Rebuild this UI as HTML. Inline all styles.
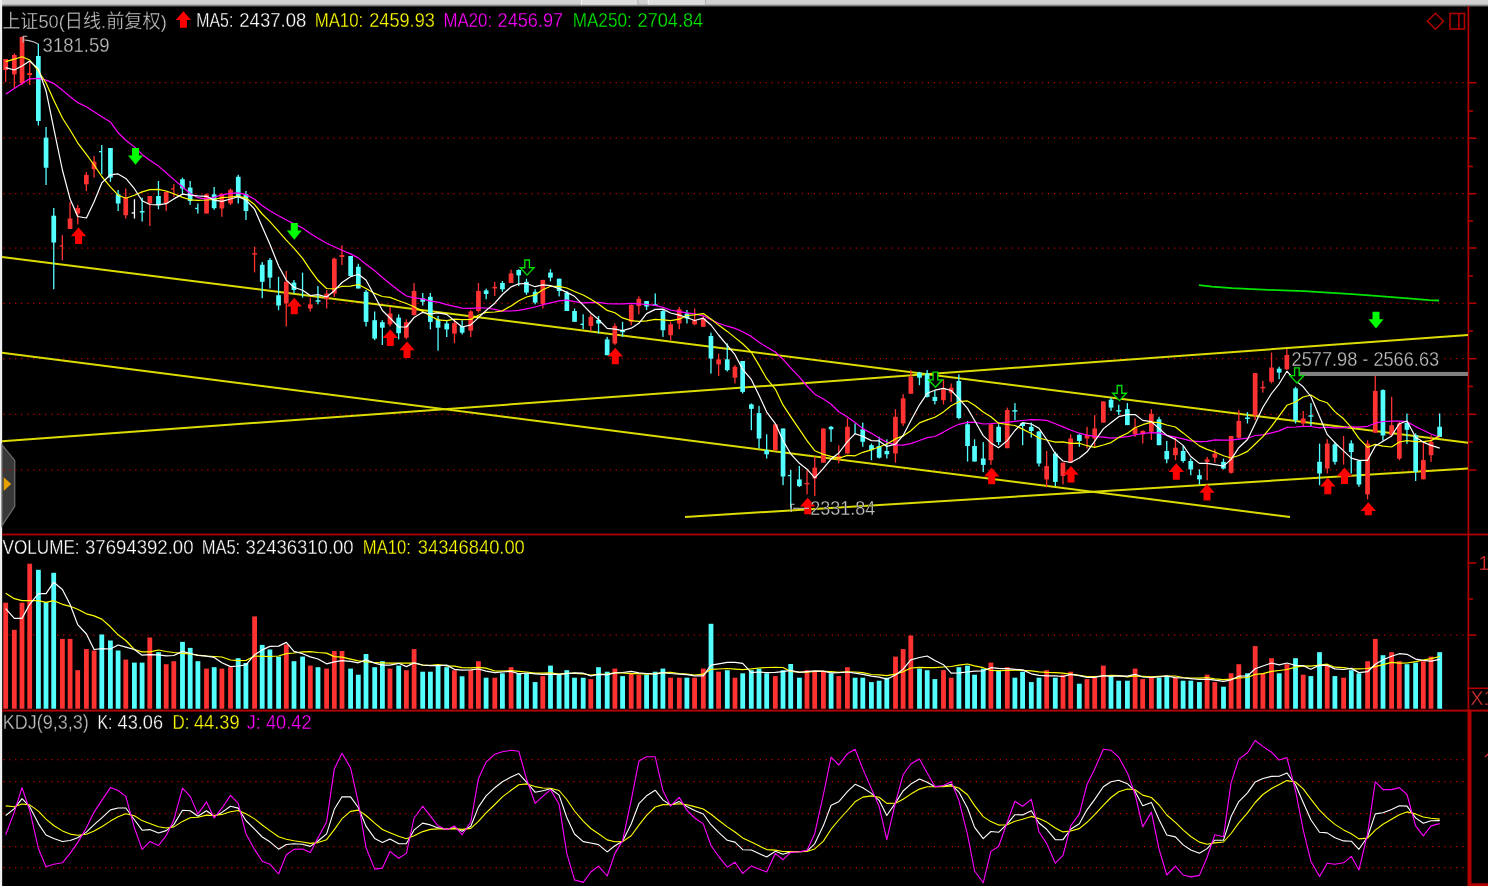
<!DOCTYPE html>
<html lang="zh"><head><meta charset="utf-8"><title>上证50 日线</title>
<style>html,body{margin:0;padding:0;background:#000;overflow:hidden}svg text{white-space:pre}</style></head>
<body>
<svg width="1488" height="886" viewBox="0 0 1488 886" style="display:block" font-family="'Liberation Sans','Noto Sans CJK SC',sans-serif">
<defs><linearGradient id="tg" x1="0" y1="0" x2="0" y2="1"><stop offset="0" stop-color="#d2d2d2"/><stop offset="0.56" stop-color="#d0d0d0"/><stop offset="0.8" stop-color="#707070"/><stop offset="1" stop-color="#000"/></linearGradient></defs>
<rect width="1488" height="886" fill="#000"/>
<rect x="0" y="0" width="1488" height="7.2" fill="url(#tg)"/>
<rect x="581" y="0" width="57" height="4.6" fill="#dedede"/><rect x="581" y="0" width="1" height="4.6" fill="#f4f4f4"/><rect x="637.4" y="0" width="0.9" height="4.6" fill="#a8a8a8"/>
<rect x="647.8" y="0" width="57.8" height="4.6" fill="#dedede"/><rect x="647.8" y="0" width="1" height="4.6" fill="#f4f4f4"/><rect x="705" y="0" width="0.9" height="4.6" fill="#a8a8a8"/>
<rect x="0" y="0" width="2.15" height="886" fill="#efefef"/>
<path d="M2,444.9 L14.7,460.4 V506.4 L2,525.6 Z" fill="#383838" stroke="#6a6a6a" stroke-width="1.3"/>
<path d="M3.7,477.2 V490.9 L11.2,484 Z" fill="#e8a000"/>
<line x1="3.15" y1="82.7" x2="1464" y2="82.7" stroke="#c00000" stroke-width="1.25" stroke-dasharray="1.25 4.754"/>
<line x1="3.15" y1="138.2" x2="1464" y2="138.2" stroke="#c00000" stroke-width="1.25" stroke-dasharray="1.25 4.754"/>
<line x1="3.15" y1="193.7" x2="1464" y2="193.7" stroke="#c00000" stroke-width="1.25" stroke-dasharray="1.25 4.754"/>
<line x1="3.15" y1="248" x2="1464" y2="248" stroke="#c00000" stroke-width="1.25" stroke-dasharray="1.25 4.754"/>
<line x1="3.15" y1="303.3" x2="1464" y2="303.3" stroke="#c00000" stroke-width="1.25" stroke-dasharray="1.25 4.754"/>
<line x1="3.15" y1="358.7" x2="1464" y2="358.7" stroke="#c00000" stroke-width="1.25" stroke-dasharray="1.25 4.754"/>
<line x1="3.15" y1="414.3" x2="1464" y2="414.3" stroke="#c00000" stroke-width="1.25" stroke-dasharray="1.25 4.754"/>
<line x1="3.15" y1="469.9" x2="1464" y2="469.9" stroke="#c00000" stroke-width="1.25" stroke-dasharray="1.25 4.754"/>
<line x1="3.15" y1="635.1" x2="1464" y2="635.1" stroke="#c00000" stroke-width="1.25" stroke-dasharray="1.25 4.754"/>
<line x1="3.15" y1="759.5" x2="1464" y2="759.5" stroke="#c00000" stroke-width="1.25" stroke-dasharray="1.25 4.754"/>
<line x1="3.15" y1="781.7" x2="1464" y2="781.7" stroke="#c00000" stroke-width="1.25" stroke-dasharray="1.25 4.754"/>
<line x1="3.15" y1="813.6" x2="1464" y2="813.6" stroke="#c00000" stroke-width="1.25" stroke-dasharray="1.25 4.754"/>
<line x1="3.15" y1="846.6" x2="1464" y2="846.6" stroke="#c00000" stroke-width="1.25" stroke-dasharray="1.25 4.754"/>
<line x1="3.15" y1="867.7" x2="1464" y2="867.7" stroke="#c00000" stroke-width="1.25" stroke-dasharray="1.25 4.754"/>
<rect x="1467.5" y="6" width="1.8" height="880" fill="#b00000"/>
<rect x="1469" y="81.9" width="7.5" height="1.6" fill="#b00000"/>
<rect x="1469" y="137.4" width="7.5" height="1.6" fill="#b00000"/>
<rect x="1469" y="192.9" width="7.5" height="1.6" fill="#b00000"/>
<rect x="1469" y="247.2" width="7.5" height="1.6" fill="#b00000"/>
<rect x="1469" y="302.5" width="7.5" height="1.6" fill="#b00000"/>
<rect x="1469" y="357.9" width="7.5" height="1.6" fill="#b00000"/>
<rect x="1469" y="413.5" width="7.5" height="1.6" fill="#b00000"/>
<rect x="1469" y="469.1" width="7.5" height="1.6" fill="#b00000"/>
<rect x="1469" y="634.3" width="7.5" height="1.6" fill="#b00000"/>
<rect x="1469" y="110.2" width="4" height="1.6" fill="#b00000"/>
<rect x="1469" y="165.7" width="4" height="1.6" fill="#b00000"/>
<rect x="1469" y="220.2" width="4" height="1.6" fill="#b00000"/>
<rect x="1469" y="275.2" width="4" height="1.6" fill="#b00000"/>
<rect x="1469" y="330.2" width="4" height="1.6" fill="#b00000"/>
<rect x="1469" y="385.7" width="4" height="1.6" fill="#b00000"/>
<rect x="1469" y="441.2" width="4" height="1.6" fill="#b00000"/>
<rect x="1469" y="598.2" width="4" height="1.6" fill="#b00000"/>
<rect x="1469" y="562.2" width="7.5" height="1.6" fill="#b00000"/>
<rect x="2" y="533.6" width="1486" height="1.8" fill="#b00000"/>
<rect x="2" y="709.6" width="1486" height="2" fill="#b00000"/>
<line x1="2" y1="256.9" x2="1468" y2="442.8" stroke="#dcdc00" stroke-width="2"/>
<line x1="2" y1="352.8" x2="1290" y2="517" stroke="#dcdc00" stroke-width="2"/>
<line x1="2" y1="441.2" x2="1468" y2="335" stroke="#dcdc00" stroke-width="2"/>
<line x1="685" y1="517" x2="1468" y2="468.6" stroke="#dcdc00" stroke-width="2"/>
<rect x="1296" y="371.9" width="172" height="4.1" fill="#808080"/>
<rect x="1290.5" y="350" width="150" height="17" fill="#000"/>
<rect x="5" y="59" width="1.3" height="23" fill="#ff3232"/>
<rect x="3.3" y="59" width="4.7" height="11" fill="#ff3232"/>
<rect x="13.7" y="53.4" width="1.3" height="35.1" fill="#ff3232"/>
<rect x="12" y="55" width="4.7" height="19.3" fill="#ff3232"/>
<rect x="21.4" y="36.7" width="1.3" height="48.3" fill="#ff3232"/>
<rect x="19.7" y="37" width="4.7" height="46.4" fill="#ff3232"/>
<rect x="29.1" y="61" width="1.3" height="24" fill="#ff3232"/>
<rect x="27.4" y="73" width="4.7" height="2" fill="#ff3232"/>
<rect x="37.7" y="44" width="1.3" height="81.5" fill="#54ffff"/>
<rect x="36" y="56" width="4.7" height="65" fill="#54ffff"/>
<rect x="45.4" y="127" width="1.3" height="58" fill="#54ffff"/>
<rect x="43.7" y="137.6" width="4.7" height="30.1" fill="#54ffff"/>
<rect x="53.1" y="208" width="1.3" height="81.2" fill="#54ffff"/>
<rect x="51.4" y="215.7" width="4.7" height="26.8" fill="#54ffff"/>
<rect x="61.7" y="235.2" width="1.3" height="25.1" fill="#ff3232"/>
<rect x="59.6" y="245.3" width="2.8" height="1.3" fill="#ff3232"/>
<rect x="69.4" y="201.8" width="1.3" height="27.1" fill="#ff3232"/>
<rect x="67.7" y="218.5" width="4.7" height="10.4" fill="#ff3232"/>
<rect x="77.1" y="205" width="1.3" height="19.4" fill="#ff3232"/>
<rect x="75.4" y="208" width="4.7" height="5.5" fill="#ff3232"/>
<rect x="85.7" y="172" width="1.3" height="19" fill="#ff3232"/>
<rect x="84" y="174.8" width="4.7" height="9.5" fill="#ff3232"/>
<rect x="93.4" y="155.9" width="1.3" height="21.7" fill="#ff3232"/>
<rect x="91.7" y="161.7" width="4.7" height="7.5" fill="#ff3232"/>
<rect x="101.1" y="145" width="1.3" height="29.3" fill="#54ffff"/>
<rect x="99" y="151" width="2.8" height="1.3" fill="#54ffff"/>
<rect x="109.8" y="148" width="1.3" height="33.8" fill="#54ffff"/>
<rect x="108.1" y="148" width="4.7" height="29.6" fill="#54ffff"/>
<rect x="117.5" y="190" width="1.3" height="21" fill="#54ffff"/>
<rect x="115.8" y="194.3" width="4.7" height="9.2" fill="#54ffff"/>
<rect x="125.1" y="188.5" width="1.3" height="30" fill="#ff3232"/>
<rect x="123.4" y="197.6" width="4.7" height="17.6" fill="#ff3232"/>
<rect x="133.8" y="199.3" width="1.3" height="19.2" fill="#ffffff"/>
<rect x="131.6" y="212.3" width="2.8" height="1.3" fill="#ffffff"/>
<rect x="141.5" y="197.6" width="1.3" height="23.9" fill="#54ffff"/>
<rect x="139.8" y="211" width="4.7" height="1.5" fill="#54ffff"/>
<rect x="149.2" y="196" width="1.3" height="30" fill="#ff3232"/>
<rect x="147.5" y="196" width="4.7" height="7.5" fill="#ff3232"/>
<rect x="157.8" y="181" width="1.3" height="28.3" fill="#54ffff"/>
<rect x="156.1" y="196" width="4.7" height="9" fill="#54ffff"/>
<rect x="165.5" y="191.8" width="1.3" height="19.2" fill="#ff3232"/>
<rect x="163.8" y="191.8" width="4.7" height="11.7" fill="#ff3232"/>
<rect x="173.2" y="184.1" width="1.3" height="12.7" fill="#ff3232"/>
<rect x="171" y="188.3" width="2.8" height="1.3" fill="#ff3232"/>
<rect x="181.8" y="177.6" width="1.3" height="16.7" fill="#54ffff"/>
<rect x="180.1" y="179.3" width="4.7" height="9.2" fill="#54ffff"/>
<rect x="189.5" y="181" width="1.3" height="23.8" fill="#54ffff"/>
<rect x="187.8" y="187.6" width="4.7" height="13.4" fill="#54ffff"/>
<rect x="197.2" y="203.5" width="1.3" height="10" fill="#54ffff"/>
<rect x="195.1" y="207.8" width="2.8" height="1.3" fill="#54ffff"/>
<rect x="205.9" y="193.5" width="1.3" height="20" fill="#ff3232"/>
<rect x="204.2" y="194.3" width="4.7" height="19.2" fill="#ff3232"/>
<rect x="213.5" y="187" width="1.3" height="22.8" fill="#54ffff"/>
<rect x="211.8" y="194.3" width="4.7" height="13.9" fill="#54ffff"/>
<rect x="221.2" y="193" width="1.3" height="23.8" fill="#ff3232"/>
<rect x="219.5" y="194.3" width="4.7" height="14.2" fill="#ff3232"/>
<rect x="229.9" y="188.5" width="1.3" height="16.5" fill="#ff3232"/>
<rect x="228.2" y="189.8" width="4.7" height="13.7" fill="#ff3232"/>
<rect x="237.6" y="174.8" width="1.3" height="28.7" fill="#54ffff"/>
<rect x="235.9" y="176.8" width="4.7" height="20" fill="#54ffff"/>
<rect x="245.3" y="191" width="1.3" height="29" fill="#54ffff"/>
<rect x="243.6" y="194.2" width="4.7" height="16.8" fill="#54ffff"/>
<rect x="253.9" y="246.8" width="1.3" height="25.6" fill="#ff3232"/>
<rect x="252.1" y="253.2" width="5" height="1.4" fill="#ff3232"/>
<rect x="261.6" y="262" width="1.3" height="36.2" fill="#54ffff"/>
<rect x="259.9" y="264.8" width="4.7" height="17" fill="#54ffff"/>
<rect x="269.3" y="258" width="1.3" height="30.5" fill="#54ffff"/>
<rect x="267.6" y="260" width="4.7" height="17.6" fill="#54ffff"/>
<rect x="277.9" y="276.8" width="1.3" height="33.4" fill="#54ffff"/>
<rect x="276.2" y="295.2" width="4.7" height="10.3" fill="#54ffff"/>
<rect x="285.6" y="271" width="1.3" height="55.5" fill="#ff3232"/>
<rect x="283.9" y="281.8" width="4.7" height="21.7" fill="#ff3232"/>
<rect x="293.3" y="280" width="1.3" height="13.5" fill="#54ffff"/>
<rect x="291.6" y="282.6" width="4.7" height="7.4" fill="#54ffff"/>
<rect x="301.9" y="272.6" width="1.3" height="25.1" fill="#54ffff"/>
<rect x="309.6" y="297.7" width="1.3" height="13.8" fill="#ff3232"/>
<rect x="307.9" y="304.3" width="4.7" height="4.2" fill="#ff3232"/>
<rect x="317.3" y="286" width="1.3" height="18.3" fill="#54ffff"/>
<rect x="315.5" y="300.3" width="5" height="1.4" fill="#54ffff"/>
<rect x="326" y="290" width="1.3" height="18.5" fill="#ff3232"/>
<rect x="324.3" y="293.5" width="4.7" height="5.8" fill="#ff3232"/>
<rect x="333.7" y="257.6" width="1.3" height="39.2" fill="#ff3232"/>
<rect x="332" y="258.7" width="4.7" height="34.8" fill="#ff3232"/>
<rect x="341.3" y="245.4" width="1.3" height="19.6" fill="#ff3232"/>
<rect x="339.6" y="255" width="4.7" height="2" fill="#ff3232"/>
<rect x="350" y="256" width="1.3" height="20.8" fill="#54ffff"/>
<rect x="348.3" y="256" width="4.7" height="20" fill="#54ffff"/>
<rect x="357.7" y="263.8" width="1.3" height="24.7" fill="#54ffff"/>
<rect x="356" y="266.8" width="4.7" height="21.7" fill="#54ffff"/>
<rect x="365.4" y="290" width="1.3" height="36.5" fill="#54ffff"/>
<rect x="363.7" y="291.8" width="4.7" height="30.1" fill="#54ffff"/>
<rect x="374" y="311.5" width="1.3" height="28.7" fill="#54ffff"/>
<rect x="372.3" y="320.2" width="4.7" height="18.4" fill="#54ffff"/>
<rect x="381.7" y="320.2" width="1.3" height="24.8" fill="#54ffff"/>
<rect x="380" y="322.2" width="4.7" height="5.5" fill="#54ffff"/>
<rect x="389.4" y="306.8" width="1.3" height="19.7" fill="#ff3232"/>
<rect x="387.7" y="313.5" width="4.7" height="10.9" fill="#ff3232"/>
<rect x="398" y="314.4" width="1.3" height="25" fill="#54ffff"/>
<rect x="396.3" y="317.7" width="4.7" height="15.5" fill="#54ffff"/>
<rect x="405.7" y="319.4" width="1.3" height="19.6" fill="#ff3232"/>
<rect x="404" y="322.2" width="4.7" height="15.5" fill="#ff3232"/>
<rect x="413.4" y="283" width="1.3" height="32.2" fill="#ff3232"/>
<rect x="411.7" y="291" width="4.7" height="24.2" fill="#ff3232"/>
<rect x="422.1" y="293" width="1.3" height="12.5" fill="#54ffff"/>
<rect x="420.4" y="298.2" width="4.7" height="3.6" fill="#54ffff"/>
<rect x="429.7" y="293" width="1.3" height="36.4" fill="#54ffff"/>
<rect x="428" y="296.8" width="4.7" height="25.1" fill="#54ffff"/>
<rect x="437.4" y="316" width="1.3" height="34.6" fill="#54ffff"/>
<rect x="435.7" y="319.4" width="4.7" height="8.3" fill="#54ffff"/>
<rect x="446.1" y="321" width="1.3" height="16" fill="#54ffff"/>
<rect x="444.4" y="323.5" width="4.7" height="5.9" fill="#54ffff"/>
<rect x="453.8" y="320.2" width="1.3" height="23" fill="#ff3232"/>
<rect x="452.1" y="323.2" width="4.7" height="10.4" fill="#ff3232"/>
<rect x="461.5" y="320.2" width="1.3" height="14.2" fill="#54ffff"/>
<rect x="459.8" y="326" width="4.7" height="6.7" fill="#54ffff"/>
<rect x="470.1" y="310.2" width="1.3" height="26.8" fill="#ff3232"/>
<rect x="468.4" y="311.5" width="4.7" height="19.1" fill="#ff3232"/>
<rect x="477.8" y="283" width="1.3" height="29.7" fill="#ff3232"/>
<rect x="476.1" y="291" width="4.7" height="20" fill="#ff3232"/>
<rect x="485.5" y="288.6" width="1.3" height="10.7" fill="#54ffff"/>
<rect x="483.8" y="290.4" width="4.7" height="3.6" fill="#54ffff"/>
<rect x="494.1" y="281.8" width="1.3" height="14.2" fill="#ff3232"/>
<rect x="492.4" y="286.8" width="4.7" height="1.6" fill="#ff3232"/>
<rect x="501.8" y="281" width="1.3" height="10.8" fill="#54ffff"/>
<rect x="500.1" y="283" width="4.7" height="6.3" fill="#54ffff"/>
<rect x="510.4" y="269.7" width="1.3" height="13.3" fill="#ff3232"/>
<rect x="508.7" y="273.4" width="4.7" height="9.6" fill="#ff3232"/>
<rect x="518.1" y="269.2" width="1.3" height="16.8" fill="#54ffff"/>
<rect x="516.4" y="270" width="4.7" height="5.4" fill="#54ffff"/>
<rect x="525.8" y="278.7" width="1.3" height="16.1" fill="#54ffff"/>
<rect x="524.1" y="281.8" width="4.7" height="10.8" fill="#54ffff"/>
<rect x="534.5" y="289.3" width="1.3" height="15" fill="#54ffff"/>
<rect x="532.8" y="291.8" width="4.7" height="10.8" fill="#54ffff"/>
<rect x="542.2" y="279.7" width="1.3" height="28.8" fill="#ff3232"/>
<rect x="540.5" y="280" width="4.7" height="24.3" fill="#ff3232"/>
<rect x="549.8" y="269.2" width="1.3" height="12.2" fill="#54ffff"/>
<rect x="548.1" y="272.6" width="4.7" height="5" fill="#54ffff"/>
<rect x="558.5" y="278.7" width="1.3" height="17.7" fill="#54ffff"/>
<rect x="556.8" y="278.7" width="4.7" height="12.3" fill="#54ffff"/>
<rect x="566.2" y="291" width="1.3" height="20" fill="#54ffff"/>
<rect x="564.5" y="292.6" width="4.7" height="18.4" fill="#54ffff"/>
<rect x="573.9" y="308.5" width="1.3" height="13.3" fill="#54ffff"/>
<rect x="572.2" y="311" width="4.7" height="10.8" fill="#54ffff"/>
<rect x="582.5" y="314.3" width="1.3" height="15" fill="#54ffff"/>
<rect x="580.4" y="323.7" width="2.8" height="1.3" fill="#54ffff"/>
<rect x="590.2" y="314.3" width="1.3" height="16.7" fill="#ff3232"/>
<rect x="588.5" y="316.8" width="4.7" height="9.2" fill="#ff3232"/>
<rect x="597.9" y="316" width="1.3" height="17.5" fill="#54ffff"/>
<rect x="596.2" y="320" width="4.7" height="3.5" fill="#54ffff"/>
<rect x="606.5" y="336.9" width="1.3" height="18.3" fill="#54ffff"/>
<rect x="604.8" y="339.4" width="4.7" height="15.8" fill="#54ffff"/>
<rect x="614.2" y="323.5" width="1.3" height="21.4" fill="#ff3232"/>
<rect x="612.5" y="326" width="4.7" height="17.5" fill="#ff3232"/>
<rect x="621.9" y="321.8" width="1.3" height="15.1" fill="#54ffff"/>
<rect x="620.1" y="330.8" width="5" height="1.4" fill="#54ffff"/>
<rect x="630.6" y="304.3" width="1.3" height="20.9" fill="#ff3232"/>
<rect x="628.9" y="305" width="4.7" height="16.8" fill="#ff3232"/>
<rect x="638.2" y="296.4" width="1.3" height="17.9" fill="#ff3232"/>
<rect x="636.5" y="298.8" width="4.7" height="7.2" fill="#ff3232"/>
<rect x="645.9" y="301" width="1.3" height="9" fill="#54ffff"/>
<rect x="644.2" y="301" width="4.7" height="5.5" fill="#54ffff"/>
<rect x="654.6" y="293.4" width="1.3" height="12.6" fill="#54ffff"/>
<rect x="652.7" y="304.3" width="5" height="1.4" fill="#54ffff"/>
<rect x="662.3" y="310" width="1.3" height="26.9" fill="#54ffff"/>
<rect x="660.6" y="311" width="4.7" height="19.2" fill="#54ffff"/>
<rect x="670" y="322.2" width="1.3" height="18" fill="#ff3232"/>
<rect x="668.3" y="324.3" width="4.7" height="10.9" fill="#ff3232"/>
<rect x="678.6" y="306.8" width="1.3" height="22.5" fill="#ff3232"/>
<rect x="676.9" y="309.3" width="4.7" height="14.2" fill="#ff3232"/>
<rect x="686.3" y="310" width="1.3" height="13.5" fill="#54ffff"/>
<rect x="684.6" y="313.5" width="4.7" height="5" fill="#54ffff"/>
<rect x="694" y="308.5" width="1.3" height="16.7" fill="#ff3232"/>
<rect x="692.3" y="320.2" width="4.7" height="4.1" fill="#ff3232"/>
<rect x="702.6" y="316" width="1.3" height="10.8" fill="#ff3232"/>
<rect x="700.9" y="318.5" width="4.7" height="8.3" fill="#ff3232"/>
<rect x="710.3" y="332.7" width="1.3" height="40.9" fill="#54ffff"/>
<rect x="708.6" y="336" width="4.7" height="22.6" fill="#54ffff"/>
<rect x="718" y="353.6" width="1.3" height="22.5" fill="#ff3232"/>
<rect x="716.3" y="359.4" width="4.7" height="5" fill="#ff3232"/>
<rect x="726.6" y="343.4" width="1.3" height="28.1" fill="#54ffff"/>
<rect x="724.9" y="359.3" width="4.7" height="10.8" fill="#54ffff"/>
<rect x="734.3" y="365.1" width="1.3" height="18.4" fill="#ff3232"/>
<rect x="732.6" y="366.8" width="4.7" height="10.9" fill="#ff3232"/>
<rect x="742" y="361" width="1.3" height="32.5" fill="#54ffff"/>
<rect x="740.3" y="361" width="4.7" height="30.9" fill="#54ffff"/>
<rect x="750.7" y="403.5" width="1.3" height="26.7" fill="#54ffff"/>
<rect x="749" y="404.4" width="4.7" height="4.5" fill="#54ffff"/>
<rect x="758.4" y="405.9" width="1.3" height="42.6" fill="#54ffff"/>
<rect x="756.7" y="413.1" width="4.7" height="25.4" fill="#54ffff"/>
<rect x="766" y="434.3" width="1.3" height="24.2" fill="#54ffff"/>
<rect x="764.3" y="450.2" width="4.7" height="4.1" fill="#54ffff"/>
<rect x="774.7" y="424.3" width="1.3" height="25.9" fill="#ff3232"/>
<rect x="773" y="424.3" width="4.7" height="25.9" fill="#ff3232"/>
<rect x="782.4" y="428.5" width="1.3" height="56.7" fill="#54ffff"/>
<rect x="780.7" y="428.5" width="4.7" height="48" fill="#54ffff"/>
<rect x="790.1" y="469.9" width="1.3" height="38.7" fill="#54ffff"/>
<rect x="787.9" y="474.9" width="2.8" height="1.3" fill="#54ffff"/>
<rect x="798.7" y="466" width="1.3" height="20.9" fill="#54ffff"/>
<rect x="797" y="479.4" width="4.7" height="6.7" fill="#54ffff"/>
<rect x="806.4" y="470.2" width="1.3" height="24.2" fill="#ff3232"/>
<rect x="804.5" y="482.9" width="5" height="1.4" fill="#ff3232"/>
<rect x="814.1" y="456.8" width="1.3" height="39.3" fill="#ff3232"/>
<rect x="812.4" y="467.7" width="4.7" height="10.8" fill="#ff3232"/>
<rect x="822.7" y="428.5" width="1.3" height="34.2" fill="#ff3232"/>
<rect x="821" y="428.5" width="4.7" height="34.2" fill="#ff3232"/>
<rect x="830.4" y="426" width="1.3" height="15.8" fill="#54ffff"/>
<rect x="828.7" y="426.8" width="4.7" height="2.5" fill="#54ffff"/>
<rect x="838.1" y="445.2" width="1.3" height="18" fill="#ff3232"/>
<rect x="836.4" y="456" width="4.7" height="3.3" fill="#ff3232"/>
<rect x="846.8" y="418.4" width="1.3" height="35.1" fill="#ff3232"/>
<rect x="845.1" y="426.8" width="4.7" height="26.7" fill="#ff3232"/>
<rect x="854.4" y="423.4" width="1.3" height="10.9" fill="#54ffff"/>
<rect x="862.1" y="422.6" width="1.3" height="24.2" fill="#54ffff"/>
<rect x="860.4" y="429.3" width="4.7" height="12.5" fill="#54ffff"/>
<rect x="870.8" y="443.5" width="1.3" height="16.7" fill="#54ffff"/>
<rect x="869.1" y="445.2" width="4.7" height="5" fill="#54ffff"/>
<rect x="878.5" y="436.8" width="1.3" height="21.7" fill="#54ffff"/>
<rect x="876.8" y="446" width="4.7" height="11.7" fill="#54ffff"/>
<rect x="886.2" y="439.3" width="1.3" height="19.2" fill="#54ffff"/>
<rect x="884.5" y="451" width="4.7" height="3.3" fill="#54ffff"/>
<rect x="894.8" y="409.2" width="1.3" height="53.5" fill="#ff3232"/>
<rect x="893.1" y="416.8" width="4.7" height="36.7" fill="#ff3232"/>
<rect x="902.5" y="394.2" width="1.3" height="31.8" fill="#ff3232"/>
<rect x="900.8" y="398.4" width="4.7" height="25" fill="#ff3232"/>
<rect x="910.2" y="370.1" width="1.3" height="23.7" fill="#ff3232"/>
<rect x="908.5" y="376.8" width="4.7" height="17" fill="#ff3232"/>
<rect x="918.8" y="371.8" width="1.3" height="13.4" fill="#54ffff"/>
<rect x="917.1" y="372.6" width="4.7" height="5.1" fill="#54ffff"/>
<rect x="926.5" y="370.1" width="1.3" height="27.4" fill="#54ffff"/>
<rect x="924.8" y="373.5" width="4.7" height="23.4" fill="#54ffff"/>
<rect x="934.2" y="390.2" width="1.3" height="14.2" fill="#54ffff"/>
<rect x="932.5" y="396.9" width="4.7" height="4.1" fill="#54ffff"/>
<rect x="942.8" y="379.3" width="1.3" height="25.1" fill="#ff3232"/>
<rect x="941.1" y="389.3" width="4.7" height="10.9" fill="#ff3232"/>
<rect x="950.5" y="383.5" width="1.3" height="18.4" fill="#ff3232"/>
<rect x="948.8" y="387.7" width="4.7" height="5" fill="#ff3232"/>
<rect x="958.2" y="374.3" width="1.3" height="45.1" fill="#54ffff"/>
<rect x="956.5" y="381" width="4.7" height="37" fill="#54ffff"/>
<rect x="966.9" y="420.9" width="1.3" height="40.6" fill="#54ffff"/>
<rect x="965.2" y="424.3" width="4.7" height="21.7" fill="#54ffff"/>
<rect x="973.9" y="439.3" width="1.3" height="22.2" fill="#54ffff"/>
<rect x="972.2" y="446" width="4.7" height="15.5" fill="#54ffff"/>
<rect x="982.6" y="442.1" width="1.3" height="30.1" fill="#54ffff"/>
<rect x="980.9" y="458.5" width="4.7" height="6.4" fill="#54ffff"/>
<rect x="990.3" y="424.3" width="1.3" height="40.6" fill="#ff3232"/>
<rect x="988.6" y="424.3" width="4.7" height="35.9" fill="#ff3232"/>
<rect x="998" y="424.3" width="1.3" height="20.9" fill="#54ffff"/>
<rect x="996.3" y="426.8" width="4.7" height="15.3" fill="#54ffff"/>
<rect x="1006.6" y="407.6" width="1.3" height="40.6" fill="#ff3232"/>
<rect x="1004.9" y="410.1" width="4.7" height="38.1" fill="#ff3232"/>
<rect x="1014.3" y="403.1" width="1.3" height="17" fill="#54ffff"/>
<rect x="1012.4" y="410.2" width="5" height="1.4" fill="#54ffff"/>
<rect x="1022" y="422.6" width="1.3" height="22.6" fill="#54ffff"/>
<rect x="1020.3" y="423" width="4.7" height="3" fill="#54ffff"/>
<rect x="1030.6" y="422.6" width="1.3" height="15" fill="#54ffff"/>
<rect x="1028.9" y="426.8" width="4.7" height="4.2" fill="#54ffff"/>
<rect x="1038.3" y="431" width="1.3" height="35.5" fill="#54ffff"/>
<rect x="1036.6" y="431.5" width="4.7" height="32" fill="#54ffff"/>
<rect x="1046" y="451" width="1.3" height="35.9" fill="#ff3232"/>
<rect x="1044.3" y="466" width="4.7" height="13.4" fill="#ff3232"/>
<rect x="1054.7" y="451.8" width="1.3" height="34.3" fill="#54ffff"/>
<rect x="1053" y="453.5" width="4.7" height="28.4" fill="#54ffff"/>
<rect x="1062.3" y="462.7" width="1.3" height="21.7" fill="#ff3232"/>
<rect x="1060.6" y="462.7" width="4.7" height="13.3" fill="#ff3232"/>
<rect x="1070" y="434.3" width="1.3" height="28.4" fill="#ff3232"/>
<rect x="1068.3" y="438.5" width="4.7" height="24.2" fill="#ff3232"/>
<rect x="1078.7" y="434.3" width="1.3" height="12.5" fill="#54ffff"/>
<rect x="1077" y="434.8" width="4.7" height="6.2" fill="#54ffff"/>
<rect x="1086.4" y="426.8" width="1.3" height="21.7" fill="#ff3232"/>
<rect x="1084.7" y="435.1" width="4.7" height="3.4" fill="#ff3232"/>
<rect x="1094" y="415.1" width="1.3" height="31.7" fill="#ff3232"/>
<rect x="1092.4" y="428.5" width="4.7" height="10" fill="#ff3232"/>
<rect x="1102.7" y="401.4" width="1.3" height="21.2" fill="#ff3232"/>
<rect x="1101" y="401.4" width="4.7" height="21.2" fill="#ff3232"/>
<rect x="1110.4" y="397.6" width="1.3" height="13.3" fill="#54ffff"/>
<rect x="1108.7" y="399.7" width="4.7" height="7.9" fill="#54ffff"/>
<rect x="1118.1" y="404.7" width="1.3" height="10.4" fill="#54ffff"/>
<rect x="1116.2" y="410.2" width="5" height="1.4" fill="#54ffff"/>
<rect x="1126.7" y="403.1" width="1.3" height="22" fill="#54ffff"/>
<rect x="1125" y="409.2" width="4.7" height="15.9" fill="#54ffff"/>
<rect x="1134.4" y="418.4" width="1.3" height="18.4" fill="#ff3232"/>
<rect x="1132.7" y="427.6" width="4.7" height="6.7" fill="#ff3232"/>
<rect x="1142.1" y="430.1" width="1.3" height="13.4" fill="#ff3232"/>
<rect x="1140.4" y="431" width="4.7" height="3.3" fill="#ff3232"/>
<rect x="1150.7" y="409.2" width="1.3" height="30.9" fill="#ff3232"/>
<rect x="1149" y="413.8" width="4.7" height="18" fill="#ff3232"/>
<rect x="1158.4" y="416.8" width="1.3" height="28.4" fill="#54ffff"/>
<rect x="1156.7" y="419.3" width="4.7" height="25.9" fill="#54ffff"/>
<rect x="1166.1" y="441" width="1.3" height="22.2" fill="#54ffff"/>
<rect x="1164.4" y="451" width="4.7" height="8.3" fill="#54ffff"/>
<rect x="1174.8" y="436.8" width="1.3" height="23.4" fill="#ff3232"/>
<rect x="1173.1" y="447.7" width="4.7" height="7.5" fill="#ff3232"/>
<rect x="1182.5" y="446" width="1.3" height="16.7" fill="#54ffff"/>
<rect x="1180.8" y="451" width="4.7" height="10" fill="#54ffff"/>
<rect x="1190.1" y="458.5" width="1.3" height="16.7" fill="#54ffff"/>
<rect x="1188.4" y="461" width="4.7" height="8.4" fill="#54ffff"/>
<rect x="1198.8" y="469.4" width="1.3" height="15" fill="#54ffff"/>
<rect x="1197.1" y="475.2" width="4.7" height="4.2" fill="#54ffff"/>
<rect x="1206.5" y="456.9" width="1.3" height="23.4" fill="#ff3232"/>
<rect x="1204.8" y="459.4" width="4.7" height="2.5" fill="#ff3232"/>
<rect x="1214.2" y="449.4" width="1.3" height="13.3" fill="#ff3232"/>
<rect x="1212.5" y="453.6" width="4.7" height="4.1" fill="#ff3232"/>
<rect x="1222.8" y="458.6" width="1.3" height="10.8" fill="#54ffff"/>
<rect x="1221.1" y="461.9" width="4.7" height="6.7" fill="#54ffff"/>
<rect x="1230.5" y="436" width="1.3" height="37.6" fill="#ff3232"/>
<rect x="1228.8" y="436" width="4.7" height="36.8" fill="#ff3232"/>
<rect x="1238.2" y="410.1" width="1.3" height="28.4" fill="#ff3232"/>
<rect x="1236.5" y="421" width="4.7" height="16.7" fill="#ff3232"/>
<rect x="1246.8" y="412.1" width="1.3" height="11.4" fill="#54ffff"/>
<rect x="1245" y="417.5" width="5" height="1.4" fill="#54ffff"/>
<rect x="1254.5" y="373.1" width="1.3" height="47.1" fill="#ff3232"/>
<rect x="1252.8" y="373.1" width="4.7" height="42.1" fill="#ff3232"/>
<rect x="1262.2" y="380.9" width="1.3" height="11.7" fill="#ff3232"/>
<rect x="1260.4" y="386.9" width="5" height="1.4" fill="#ff3232"/>
<rect x="1270.9" y="352.5" width="1.3" height="30.9" fill="#ff3232"/>
<rect x="1269.2" y="367.6" width="4.7" height="14.2" fill="#ff3232"/>
<rect x="1278.5" y="366.7" width="1.3" height="12.5" fill="#54ffff"/>
<rect x="1276.8" y="368.7" width="4.7" height="3.9" fill="#54ffff"/>
<rect x="1286.2" y="349.2" width="1.3" height="20.8" fill="#ff3232"/>
<rect x="1284.5" y="355" width="4.7" height="14.2" fill="#ff3232"/>
<rect x="1294.9" y="386.8" width="1.3" height="36.7" fill="#54ffff"/>
<rect x="1293.2" y="388.4" width="4.7" height="31.8" fill="#54ffff"/>
<rect x="1302.6" y="411" width="1.3" height="15.8" fill="#ff3232"/>
<rect x="1300.9" y="418.5" width="4.7" height="5" fill="#ff3232"/>
<rect x="1310.3" y="403.1" width="1.3" height="23.7" fill="#54ffff"/>
<rect x="1308.4" y="415.3" width="5" height="1.4" fill="#54ffff"/>
<rect x="1318.9" y="443.6" width="1.3" height="41.6" fill="#54ffff"/>
<rect x="1317.2" y="461.8" width="4.7" height="11.7" fill="#54ffff"/>
<rect x="1326.6" y="439.3" width="1.3" height="34.2" fill="#ff3232"/>
<rect x="1324.9" y="443.6" width="4.7" height="24.9" fill="#ff3232"/>
<rect x="1334.3" y="441.9" width="1.3" height="22.7" fill="#54ffff"/>
<rect x="1332.6" y="444.3" width="4.7" height="17.5" fill="#54ffff"/>
<rect x="1342.9" y="436" width="1.3" height="28.6" fill="#ff3232"/>
<rect x="1350.6" y="440.3" width="1.3" height="33.2" fill="#54ffff"/>
<rect x="1348.9" y="443.4" width="4.7" height="8.6" fill="#54ffff"/>
<rect x="1358.3" y="461" width="1.3" height="25.8" fill="#54ffff"/>
<rect x="1356.6" y="461" width="4.7" height="23.5" fill="#54ffff"/>
<rect x="1366.9" y="440.3" width="1.3" height="59.1" fill="#ff3232"/>
<rect x="1365.2" y="443.6" width="4.7" height="50.8" fill="#ff3232"/>
<rect x="1374.6" y="375.9" width="1.3" height="56.8" fill="#ff3232"/>
<rect x="1372.9" y="390.9" width="4.7" height="41.8" fill="#ff3232"/>
<rect x="1382.3" y="389.3" width="1.3" height="51.3" fill="#54ffff"/>
<rect x="1380.6" y="390.1" width="4.7" height="45.4" fill="#54ffff"/>
<rect x="1391" y="396.8" width="1.3" height="39.2" fill="#ff3232"/>
<rect x="1389.3" y="425.2" width="4.7" height="10" fill="#ff3232"/>
<rect x="1398.7" y="421.8" width="1.3" height="38.4" fill="#ff3232"/>
<rect x="1397" y="423.5" width="4.7" height="35.1" fill="#ff3232"/>
<rect x="1406.3" y="413.5" width="1.3" height="30.3" fill="#54ffff"/>
<rect x="1404.6" y="423" width="4.7" height="6.8" fill="#54ffff"/>
<rect x="1415" y="433.3" width="1.3" height="47.7" fill="#54ffff"/>
<rect x="1413.3" y="435.2" width="4.7" height="36.6" fill="#54ffff"/>
<rect x="1422.7" y="441.8" width="1.3" height="37.5" fill="#ff3232"/>
<rect x="1421" y="460.1" width="4.7" height="19.2" fill="#ff3232"/>
<rect x="1430.4" y="435.2" width="1.3" height="26.7" fill="#ff3232"/>
<rect x="1428.7" y="441.9" width="4.7" height="13.3" fill="#ff3232"/>
<rect x="1439" y="413.5" width="1.3" height="23.4" fill="#54ffff"/>
<rect x="1437.3" y="426.8" width="4.7" height="10.1" fill="#54ffff"/>
<polyline points="5.7,94.3 14.3,88.5 22,83.4 29.7,78.8 38.4,78.4 46,80.1 53.7,83.4 62.4,90.1 70.1,96.8 77.7,102.6 86.4,106.8 94.1,111.8 101.8,116.8 110.4,121.9 118.1,132.7 125.8,140.2 134.4,146.9 142.1,154.4 149.8,160.3 158.5,166.1 166.2,172.7 173.8,179.4 182.5,187 190.2,193.4 197.9,197.7 206.5,199.1 214.2,197.4 221.9,194.8 230.5,193.3 238.2,192.8 245.9,194.6 254.6,199.2 262.2,205.7 269.9,210.7 278.6,215.8 286.3,220 293.9,223.9 302.6,228 310.3,233.5 318,238.3 326.6,243.3 334.3,246.8 342,250.2 350.6,253.9 358.3,257.9 366,264.3 374.7,270.8 382.4,277.5 390,283.7 398.7,290.5 406.4,296 414.1,297.9 422.7,298.9 430.4,301.1 438.1,302.2 446.7,304.6 454.4,306.3 462.1,308.1 470.8,308.4 478.4,307.9 486.1,308 494.8,309.4 502.4,311.1 511.1,311 518.8,310.3 526.5,308.8 535.1,307 542.8,304.7 550.5,302.9 559.1,300.8 566.8,300.2 574.5,301.7 583.2,302.9 590.8,302.6 598.5,302.4 607.2,303.7 614.9,303.8 622.6,303.8 631.2,303.4 638.9,303.8 646.6,304.5 655.2,305.4 662.9,307.4 670.6,310 679.2,311.6 686.9,312.9 694.6,313.8 703.3,315.8 711,319.8 718.6,323.2 727.3,326.2 735,328.4 742.7,331.8 751.3,336.4 759,342.2 766.7,347.1 775.3,352 783,359.3 790.7,367.8 799.4,377.2 807,386 814.7,394.2 823.4,399.1 831.1,404.3 838.8,411.7 847.4,417.1 855.1,422.5 862.8,428.6 871.4,433.2 879.1,438.1 886.8,442.3 895.5,444.8 903.1,445.2 910.8,443.6 919.5,440.5 927.2,437.6 934.9,436.5 943.5,432.1 951.2,427.7 958.9,424.3 967.5,422.4 974.6,422.1 983.2,424 990.9,423.7 998.6,423 1007.3,422.2 1014.9,421.3 1022.6,420.5 1031.3,419.6 1039,419.9 1046.7,420.4 1055.3,423.7 1063,426.9 1070.7,430 1079.3,433.2 1087,435.1 1094.7,436.4 1103.3,437.1 1111,438.1 1118.7,437.7 1127.4,436.6 1135.1,435 1142.7,433.3 1151.4,432.7 1159.1,432.9 1166.8,435.4 1175.4,437.2 1183.1,438.9 1190.8,440.9 1199.4,441.7 1207.1,441.3 1214.8,439.9 1223.5,440.2 1231.1,440.1 1238.8,439.1 1247.5,438.2 1255.2,435.5 1262.9,434.8 1271.5,432.8 1279.2,430.9 1286.9,427.4 1295.5,427 1303.2,426.4 1310.9,426.5 1319.5,427.9 1327.2,427.1 1334.9,427.8 1343.6,427.7 1351.3,426.9 1358.9,427.1 1367.6,426.3 1375.3,423.2 1383,421.5 1391.6,421 1399.3,421.1 1407,421.7 1415.6,426.6 1423.3,430.3 1431,434 1439.7,437.2" fill="none" stroke="#ff00ff" stroke-width="1.2" stroke-linejoin="round"/>
<polyline points="5.7,61.7 14.3,59.2 22,56.7 29.7,60 38.4,71 46,83 53.7,100 62.4,118 70.1,130 77.7,142.8 86.4,154.3 94.1,165 101.8,176.5 110.4,186.9 118.1,195.2 125.8,198.2 134.4,195.2 142.1,191.9 149.8,189.6 158.5,189.3 166.2,191 173.8,193.8 182.5,197.4 190.2,199.8 197.9,200.3 206.5,200 214.2,199.5 221.9,197.7 230.5,197 238.2,196.2 245.9,198.1 254.6,204.6 262.2,214 269.9,221.6 278.6,231.3 286.3,240.1 293.9,248.2 302.6,258.4 310.3,269.9 318,280.3 326.6,288.5 334.3,289 342,286.3 350.6,286.2 358.3,284.5 366,288.5 374.7,293.4 382.4,296.5 390,297.4 398.7,300.7 406.4,303.5 414.1,306.8 422.7,311.4 430.4,316 438.1,319.9 446.7,320.7 454.4,319.2 462.1,319.7 470.8,319.5 478.4,315.2 486.1,312.4 494.8,312 502.4,310.8 511.1,305.9 518.8,300.7 526.5,297 535.1,294.9 542.8,289.7 550.5,286.3 559.1,286.3 566.8,288 574.5,291.5 583.2,295 590.8,299.3 598.5,304.1 607.2,310.4 614.9,312.7 622.6,317.9 631.2,320.6 638.9,321.4 646.6,320.9 655.2,319.3 662.9,319.9 670.6,320.6 679.2,319.2 686.9,315.5 694.6,314.9 703.3,313.6 711,319 718.6,325.1 727.3,331.4 735,337.6 742.7,343.8 751.3,352.2 759,365.1 766.7,378.7 775.3,389.1 783,404.9 790.7,416.6 799.4,429.3 807,440.6 814.7,450.7 823.4,454.4 831.1,456.4 838.8,458.2 847.4,455.4 855.1,455.8 862.8,452.3 871.4,449.8 879.1,447 886.8,444 895.5,438.9 903.1,435.9 910.8,430.7 919.5,422.9 927.2,419.9 934.9,417.2 943.5,411.9 951.2,405.7 958.9,401.7 967.5,400.9 974.6,405.3 983.2,412 990.9,416.7 998.6,423.2 1007.3,424.5 1014.9,425.5 1022.6,429.1 1031.3,433.5 1039,438 1046.7,440 1055.3,442.1 1063,441.9 1070.7,443.3 1079.3,443.2 1087,445.7 1094.7,447.4 1103.3,445 1111,442.6 1118.7,437.4 1127.4,433.3 1135.1,427.8 1142.7,424.7 1151.4,422.2 1159.1,422.6 1166.8,425 1175.4,427 1183.1,432.9 1190.8,439.1 1199.4,445.9 1207.1,449.4 1214.8,452 1223.5,455.7 1231.1,458 1238.8,455.5 1247.5,451.4 1255.2,444 1262.9,436.6 1271.5,426.4 1279.2,415.8 1286.9,405.3 1295.5,402 1303.2,397 1310.9,395 1319.5,400.2 1327.2,402.8 1334.9,411.6 1343.6,418.8 1351.3,427.3 1358.9,438.4 1367.6,447.3 1375.3,444.4 1383,446.1 1391.6,447 1399.3,442 1407,440.6 1415.6,441.6 1423.3,441.7 1431,440.7 1439.7,435.9" fill="none" stroke="#ffff00" stroke-width="1.2" stroke-linejoin="round"/>
<polyline points="5.7,67.6 14.3,70 22,66 29.7,61 38.4,69 46,90.7 53.7,128.2 62.4,170 70.1,199.1 77.7,216.5 86.4,218 94.1,201.8 101.8,182.9 110.4,174.8 118.1,173.9 125.8,178.4 134.4,188.7 142.1,200.8 149.8,204.5 158.5,204.8 166.2,203.7 173.8,198.9 182.5,194.1 190.2,195.1 197.9,195.8 206.5,196.3 214.2,200.1 221.9,201.3 230.5,199 238.2,196.7 245.9,200 254.6,209.2 262.2,226.7 269.9,244.2 278.6,266 286.3,280.1 293.9,287.3 302.6,290.2 310.3,295.5 318,294.6 326.6,297 334.3,290.7 342,282.5 350.6,276.8 358.3,274.3 366,280 374.7,296 382.4,310.5 390,318 398.7,327 406.4,327 414.1,317.5 422.7,312.3 430.4,314 438.1,312.9 446.7,314.4 454.4,320.8 462.1,327 470.8,324.9 478.4,317.6 486.1,310.5 494.8,303.2 502.4,294.5 511.1,286.9 518.8,283.8 526.5,283.5 535.1,286.7 542.8,284.8 550.5,285.6 559.1,288.8 566.8,292.4 574.5,296.3 583.2,305.1 590.8,313 598.5,319.5 607.2,328.3 614.9,329.2 622.6,330.6 631.2,328.2 638.9,323.3 646.6,313.6 655.2,309.4 662.9,309.1 670.6,313 679.2,315.1 686.9,317.5 694.6,320.5 703.3,318.2 711,325 718.6,335 727.3,345.4 735,354.7 742.7,369.4 751.3,379.4 759,395.2 766.7,412.1 775.3,423.6 783,440.5 790.7,453.8 799.4,463.3 807,469.2 814.7,477.9 823.4,468.3 831.1,459 838.8,453 847.4,441.7 855.1,433.7 862.8,436.4 871.4,440.6 879.1,440.9 886.8,446.4 895.5,444.2 903.1,435.5 910.8,420.8 919.5,404.8 927.2,393.3 934.9,390.2 943.5,388.3 951.2,390.5 958.9,398.6 967.5,408.4 974.6,420.5 983.2,435.6 990.9,442.9 998.6,447.8 1007.3,440.6 1014.9,430.5 1022.6,422.7 1031.3,424 1039,428.3 1046.7,439.5 1055.3,453.7 1063,461 1070.7,462.5 1079.3,458 1087,451.8 1094.7,441.2 1103.3,428.9 1111,422.7 1118.7,416.7 1127.4,414.7 1135.1,414.5 1142.7,420.4 1151.4,421.7 1159.1,428.5 1166.8,435.4 1175.4,439.4 1183.1,445.4 1190.8,456.5 1199.4,463.4 1207.1,463.4 1214.8,464.6 1223.5,466.1 1231.1,459.4 1238.8,447.7 1247.5,439.5 1255.2,423.4 1262.9,407.2 1271.5,393.5 1279.2,383.8 1286.9,371.2 1295.5,380.6 1303.2,386.8 1310.9,396.5 1319.5,416.6 1327.2,434.4 1334.9,442.7 1343.6,450.9 1351.3,458.1 1358.9,460.3 1367.6,460.3 1375.3,446.1 1383,441.3 1391.6,435.9 1399.3,423.7 1407,421 1415.6,437.2 1423.3,442.1 1431,445.4 1439.7,448.1" fill="none" stroke="#ffffff" stroke-width="1.2" stroke-linejoin="round"/>
<polyline points="1199,285.1 1212,286.6 1232,288.2 1268,289.9 1304,291.2 1328,292.7 1352,294.2 1376,295.8 1395,297.3 1411,298.7 1429,300.2 1439,300.5" fill="none" stroke="#00e400" stroke-width="1.8"/>
<path d="M78.6,227.6 l7.7,8.7 h-4.2 v7.8 h-7 v-7.8 h-4.2 z" fill="#ff0000"/>
<path d="M294.3,297.7 l7.7,8.7 h-4.2 v7.8 h-7 v-7.8 h-4.2 z" fill="#ff0000"/>
<path d="M390.3,329.4 l7.7,8.7 h-4.2 v7.8 h-7 v-7.8 h-4.2 z" fill="#ff0000"/>
<path d="M407,341.6 l7.7,8.7 h-4.2 v7.8 h-7 v-7.8 h-4.2 z" fill="#ff0000"/>
<path d="M615.3,347.7 l7.7,8.7 h-4.2 v7.8 h-7 v-7.8 h-4.2 z" fill="#ff0000"/>
<path d="M807.7,497.8 l7.7,8.7 h-4.2 v7.8 h-7 v-7.8 h-4.2 z" fill="#ff0000"/>
<path d="M991.7,467.7 l7.7,8.7 h-4.2 v7.8 h-7 v-7.8 h-4.2 z" fill="#ff0000"/>
<path d="M1071,466 l7.7,8.7 h-4.2 v7.8 h-7 v-7.8 h-4.2 z" fill="#ff0000"/>
<path d="M1176.3,463.2 l7.7,8.7 h-4.2 v7.8 h-7 v-7.8 h-4.2 z" fill="#ff0000"/>
<path d="M1207,484 l7.7,8.7 h-4.2 v7.8 h-7 v-7.8 h-4.2 z" fill="#ff0000"/>
<path d="M1327.8,477.7 l7.7,8.7 h-4.2 v7.8 h-7 v-7.8 h-4.2 z" fill="#ff0000"/>
<path d="M1344.5,467.6 l7.7,8.7 h-4.2 v7.8 h-7 v-7.8 h-4.2 z" fill="#ff0000"/>
<path d="M1368.3,502.2 l7.7,8.7 h-4.2 v4.4 h-7 v-4.4 h-4.2 z" fill="#ff0000"/>
<path d="M135.5,164.8 l7.5,-9.3 h-4 v-7.5 h-7 v7.5 h-4 z" fill="#00ff00"/>
<path d="M294.3,239.7 l7.5,-9.3 h-4 v-7.5 h-7 v7.5 h-4 z" fill="#00ff00"/>
<path d="M1376,328.5 l7.5,-9.3 h-4 v-7.5 h-7 v7.5 h-4 z" fill="#00ff00"/>
<path d="M527.1,275.1 l6.9,-7.4 h-4.6 v-7.7 h-4.6 v7.7 h-4.6 z" fill="#000" stroke="#00dc00" stroke-width="1.35"/>
<path d="M935.4,387.2 l6.9,-7.4 h-4.6 v-7.7 h-4.6 v7.7 h-4.6 z" fill="#000" stroke="#00dc00" stroke-width="1.35"/>
<path d="M1119.5,400.6 l6.9,-7.4 h-4.6 v-7.7 h-4.6 v7.7 h-4.6 z" fill="#000" stroke="#00dc00" stroke-width="1.35"/>
<path d="M1296.9,383 l6.9,-7.4 h-4.6 v-7.7 h-4.6 v7.7 h-4.6 z" fill="#000" stroke="#00dc00" stroke-width="1.35"/>
<rect x="3.3" y="602.7" width="4.8" height="106" fill="#ff3232"/>
<rect x="11.9" y="629.8" width="4.8" height="78.9" fill="#ff3232"/>
<rect x="19.6" y="602.7" width="4.8" height="106" fill="#ff3232"/>
<rect x="27.3" y="563.7" width="4.8" height="145" fill="#ff3232"/>
<rect x="36" y="569.8" width="4.8" height="138.9" fill="#54ffff"/>
<rect x="43.6" y="602.3" width="4.8" height="106.4" fill="#54ffff"/>
<rect x="51.3" y="572.8" width="4.8" height="135.9" fill="#54ffff"/>
<rect x="60" y="638.9" width="4.8" height="69.8" fill="#ff3232"/>
<rect x="67.7" y="638.9" width="4.8" height="69.8" fill="#ff3232"/>
<rect x="75.3" y="670.2" width="4.8" height="38.5" fill="#ff3232"/>
<rect x="84" y="649.1" width="4.8" height="59.6" fill="#ff3232"/>
<rect x="91.7" y="650.5" width="4.8" height="58.2" fill="#ff3232"/>
<rect x="99.4" y="634.5" width="4.8" height="74.2" fill="#54ffff"/>
<rect x="108" y="640.5" width="4.8" height="68.2" fill="#54ffff"/>
<rect x="115.7" y="650.5" width="4.8" height="58.2" fill="#54ffff"/>
<rect x="123.4" y="659.6" width="4.8" height="49.1" fill="#ff3232"/>
<rect x="132" y="662.6" width="4.8" height="46.1" fill="#54ffff"/>
<rect x="139.7" y="662.6" width="4.8" height="46.1" fill="#54ffff"/>
<rect x="147.4" y="637.5" width="4.8" height="71.2" fill="#ff3232"/>
<rect x="156.1" y="652.2" width="4.8" height="56.5" fill="#54ffff"/>
<rect x="163.8" y="664.2" width="4.8" height="44.5" fill="#ff3232"/>
<rect x="171.4" y="661.2" width="4.8" height="47.5" fill="#ff3232"/>
<rect x="180.1" y="641.9" width="4.8" height="66.8" fill="#54ffff"/>
<rect x="187.8" y="647.9" width="4.8" height="60.8" fill="#54ffff"/>
<rect x="195.5" y="661.2" width="4.8" height="47.5" fill="#54ffff"/>
<rect x="204.1" y="668.6" width="4.8" height="40.1" fill="#ff3232"/>
<rect x="211.8" y="667.2" width="4.8" height="41.5" fill="#54ffff"/>
<rect x="219.5" y="668.6" width="4.8" height="40.1" fill="#ff3232"/>
<rect x="228.1" y="667.2" width="4.8" height="41.5" fill="#ff3232"/>
<rect x="235.8" y="658.2" width="4.8" height="50.5" fill="#54ffff"/>
<rect x="243.5" y="663" width="4.8" height="45.7" fill="#54ffff"/>
<rect x="252.2" y="616.4" width="4.8" height="92.3" fill="#ff3232"/>
<rect x="259.8" y="644.9" width="4.8" height="63.8" fill="#54ffff"/>
<rect x="267.5" y="649.5" width="4.8" height="59.2" fill="#54ffff"/>
<rect x="276.2" y="656.6" width="4.8" height="52.1" fill="#54ffff"/>
<rect x="283.9" y="644.5" width="4.8" height="64.2" fill="#ff3232"/>
<rect x="291.6" y="661.2" width="4.8" height="47.5" fill="#54ffff"/>
<rect x="300.2" y="656.6" width="4.8" height="52.1" fill="#54ffff"/>
<rect x="307.9" y="665.6" width="4.8" height="43.1" fill="#ff3232"/>
<rect x="315.6" y="667.2" width="4.8" height="41.5" fill="#54ffff"/>
<rect x="324.2" y="668.6" width="4.8" height="40.1" fill="#ff3232"/>
<rect x="331.9" y="651" width="4.8" height="57.7" fill="#ff3232"/>
<rect x="339.6" y="651" width="4.8" height="57.7" fill="#ff3232"/>
<rect x="348.2" y="668.6" width="4.8" height="40.1" fill="#54ffff"/>
<rect x="355.9" y="674.7" width="4.8" height="34" fill="#54ffff"/>
<rect x="363.6" y="654" width="4.8" height="54.7" fill="#54ffff"/>
<rect x="372.3" y="667.2" width="4.8" height="41.5" fill="#54ffff"/>
<rect x="380" y="661.2" width="4.8" height="47.5" fill="#54ffff"/>
<rect x="387.6" y="668.6" width="4.8" height="40.1" fill="#ff3232"/>
<rect x="396.3" y="665.6" width="4.8" height="43.1" fill="#54ffff"/>
<rect x="404" y="670.2" width="4.8" height="38.5" fill="#ff3232"/>
<rect x="411.7" y="649.1" width="4.8" height="59.6" fill="#ff3232"/>
<rect x="420.3" y="671.7" width="4.8" height="37" fill="#54ffff"/>
<rect x="428" y="671.7" width="4.8" height="37" fill="#54ffff"/>
<rect x="435.7" y="665.6" width="4.8" height="43.1" fill="#54ffff"/>
<rect x="444.3" y="667.2" width="4.8" height="41.5" fill="#54ffff"/>
<rect x="452" y="670.2" width="4.8" height="38.5" fill="#ff3232"/>
<rect x="459.7" y="676.3" width="4.8" height="32.4" fill="#54ffff"/>
<rect x="468.4" y="670.2" width="4.8" height="38.5" fill="#ff3232"/>
<rect x="476" y="661.2" width="4.8" height="47.5" fill="#ff3232"/>
<rect x="483.7" y="677.7" width="4.8" height="31" fill="#54ffff"/>
<rect x="492.4" y="677.7" width="4.8" height="31" fill="#ff3232"/>
<rect x="500" y="673.3" width="4.8" height="35.4" fill="#54ffff"/>
<rect x="508.7" y="667.2" width="4.8" height="41.5" fill="#ff3232"/>
<rect x="516.4" y="673.3" width="4.8" height="35.4" fill="#54ffff"/>
<rect x="524.1" y="673.3" width="4.8" height="35.4" fill="#54ffff"/>
<rect x="532.7" y="682.1" width="4.8" height="26.6" fill="#54ffff"/>
<rect x="540.4" y="676.1" width="4.8" height="32.6" fill="#ff3232"/>
<rect x="548.1" y="665.6" width="4.8" height="43.1" fill="#54ffff"/>
<rect x="556.7" y="674.7" width="4.8" height="34" fill="#54ffff"/>
<rect x="564.4" y="670.2" width="4.8" height="38.5" fill="#54ffff"/>
<rect x="572.1" y="677.7" width="4.8" height="31" fill="#54ffff"/>
<rect x="580.8" y="677.7" width="4.8" height="31" fill="#54ffff"/>
<rect x="588.4" y="679.1" width="4.8" height="29.6" fill="#ff3232"/>
<rect x="596.1" y="667.2" width="4.8" height="41.5" fill="#54ffff"/>
<rect x="604.8" y="671.7" width="4.8" height="37" fill="#54ffff"/>
<rect x="612.5" y="668.6" width="4.8" height="40.1" fill="#ff3232"/>
<rect x="620.2" y="676.1" width="4.8" height="32.6" fill="#54ffff"/>
<rect x="628.8" y="673.3" width="4.8" height="35.4" fill="#ff3232"/>
<rect x="636.5" y="674.7" width="4.8" height="34" fill="#ff3232"/>
<rect x="644.2" y="674.7" width="4.8" height="34" fill="#54ffff"/>
<rect x="652.8" y="671.7" width="4.8" height="37" fill="#54ffff"/>
<rect x="660.5" y="668.6" width="4.8" height="40.1" fill="#54ffff"/>
<rect x="668.2" y="677.7" width="4.8" height="31" fill="#ff3232"/>
<rect x="676.9" y="677.7" width="4.8" height="31" fill="#ff3232"/>
<rect x="684.5" y="677.7" width="4.8" height="31" fill="#54ffff"/>
<rect x="692.2" y="677.7" width="4.8" height="31" fill="#ff3232"/>
<rect x="700.9" y="668.6" width="4.8" height="40.1" fill="#ff3232"/>
<rect x="708.6" y="623.8" width="4.8" height="84.9" fill="#54ffff"/>
<rect x="716.2" y="671.7" width="4.8" height="37" fill="#ff3232"/>
<rect x="724.9" y="670.2" width="4.8" height="38.5" fill="#54ffff"/>
<rect x="732.6" y="677.7" width="4.8" height="31" fill="#ff3232"/>
<rect x="740.3" y="673.3" width="4.8" height="35.4" fill="#54ffff"/>
<rect x="748.9" y="670.2" width="4.8" height="38.5" fill="#54ffff"/>
<rect x="756.6" y="668.6" width="4.8" height="40.1" fill="#54ffff"/>
<rect x="764.3" y="673.3" width="4.8" height="35.4" fill="#54ffff"/>
<rect x="772.9" y="676.1" width="4.8" height="32.6" fill="#ff3232"/>
<rect x="780.6" y="670.2" width="4.8" height="38.5" fill="#54ffff"/>
<rect x="788.3" y="664" width="4.8" height="44.7" fill="#54ffff"/>
<rect x="797" y="677.7" width="4.8" height="31" fill="#54ffff"/>
<rect x="804.6" y="670.2" width="4.8" height="38.5" fill="#ff3232"/>
<rect x="812.3" y="671.7" width="4.8" height="37" fill="#ff3232"/>
<rect x="821" y="671.7" width="4.8" height="37" fill="#ff3232"/>
<rect x="828.7" y="673.3" width="4.8" height="35.4" fill="#54ffff"/>
<rect x="836.4" y="676.1" width="4.8" height="32.6" fill="#ff3232"/>
<rect x="845" y="667.2" width="4.8" height="41.5" fill="#ff3232"/>
<rect x="852.7" y="677.7" width="4.8" height="31" fill="#54ffff"/>
<rect x="860.4" y="677.7" width="4.8" height="31" fill="#54ffff"/>
<rect x="869" y="682.1" width="4.8" height="26.6" fill="#54ffff"/>
<rect x="876.7" y="680.7" width="4.8" height="28" fill="#54ffff"/>
<rect x="884.4" y="677.7" width="4.8" height="31" fill="#54ffff"/>
<rect x="893.1" y="656.6" width="4.8" height="52.1" fill="#ff3232"/>
<rect x="900.7" y="649.1" width="4.8" height="59.6" fill="#ff3232"/>
<rect x="908.4" y="635.5" width="4.8" height="73.2" fill="#ff3232"/>
<rect x="917.1" y="668.6" width="4.8" height="40.1" fill="#54ffff"/>
<rect x="924.8" y="670.2" width="4.8" height="38.5" fill="#54ffff"/>
<rect x="932.5" y="679.1" width="4.8" height="29.6" fill="#54ffff"/>
<rect x="941.1" y="670.2" width="4.8" height="38.5" fill="#ff3232"/>
<rect x="948.8" y="677.7" width="4.8" height="31" fill="#ff3232"/>
<rect x="956.5" y="667.2" width="4.8" height="41.5" fill="#54ffff"/>
<rect x="965.1" y="665.6" width="4.8" height="43.1" fill="#54ffff"/>
<rect x="972.2" y="674.7" width="4.8" height="34" fill="#54ffff"/>
<rect x="980.8" y="668.6" width="4.8" height="40.1" fill="#54ffff"/>
<rect x="988.5" y="662.6" width="4.8" height="46.1" fill="#ff3232"/>
<rect x="996.2" y="670.2" width="4.8" height="38.5" fill="#54ffff"/>
<rect x="1004.9" y="667.2" width="4.8" height="41.5" fill="#ff3232"/>
<rect x="1012.5" y="677.7" width="4.8" height="31" fill="#54ffff"/>
<rect x="1020.2" y="671.7" width="4.8" height="37" fill="#54ffff"/>
<rect x="1028.9" y="682.1" width="4.8" height="26.6" fill="#54ffff"/>
<rect x="1036.6" y="677.7" width="4.8" height="31" fill="#54ffff"/>
<rect x="1044.3" y="670.2" width="4.8" height="38.5" fill="#ff3232"/>
<rect x="1052.9" y="677.7" width="4.8" height="31" fill="#54ffff"/>
<rect x="1060.6" y="674.7" width="4.8" height="34" fill="#ff3232"/>
<rect x="1068.3" y="671.7" width="4.8" height="37" fill="#ff3232"/>
<rect x="1076.9" y="683.7" width="4.8" height="25" fill="#54ffff"/>
<rect x="1084.6" y="679.1" width="4.8" height="29.6" fill="#ff3232"/>
<rect x="1092.3" y="677.7" width="4.8" height="31" fill="#ff3232"/>
<rect x="1100.9" y="665.6" width="4.8" height="43.1" fill="#ff3232"/>
<rect x="1108.6" y="676.1" width="4.8" height="32.6" fill="#54ffff"/>
<rect x="1116.3" y="680.7" width="4.8" height="28" fill="#54ffff"/>
<rect x="1125" y="680.7" width="4.8" height="28" fill="#54ffff"/>
<rect x="1132.7" y="668.6" width="4.8" height="40.1" fill="#ff3232"/>
<rect x="1140.3" y="679.1" width="4.8" height="29.6" fill="#ff3232"/>
<rect x="1149" y="677.7" width="4.8" height="31" fill="#ff3232"/>
<rect x="1156.7" y="677.7" width="4.8" height="31" fill="#54ffff"/>
<rect x="1164.4" y="676.1" width="4.8" height="32.6" fill="#54ffff"/>
<rect x="1173" y="677.7" width="4.8" height="31" fill="#ff3232"/>
<rect x="1180.7" y="680.7" width="4.8" height="28" fill="#54ffff"/>
<rect x="1188.4" y="680.7" width="4.8" height="28" fill="#54ffff"/>
<rect x="1197" y="682.1" width="4.8" height="26.6" fill="#54ffff"/>
<rect x="1204.7" y="674.7" width="4.8" height="34" fill="#ff3232"/>
<rect x="1212.4" y="682.1" width="4.8" height="26.6" fill="#ff3232"/>
<rect x="1221.1" y="686.7" width="4.8" height="22" fill="#54ffff"/>
<rect x="1228.7" y="673.3" width="4.8" height="35.4" fill="#ff3232"/>
<rect x="1236.4" y="664.2" width="4.8" height="44.5" fill="#ff3232"/>
<rect x="1245.1" y="673.3" width="4.8" height="35.4" fill="#54ffff"/>
<rect x="1252.8" y="646.1" width="4.8" height="62.6" fill="#ff3232"/>
<rect x="1260.5" y="673.3" width="4.8" height="35.4" fill="#ff3232"/>
<rect x="1269.1" y="658.2" width="4.8" height="50.5" fill="#ff3232"/>
<rect x="1276.8" y="673.3" width="4.8" height="35.4" fill="#54ffff"/>
<rect x="1284.5" y="664.2" width="4.8" height="44.5" fill="#ff3232"/>
<rect x="1293.1" y="658.2" width="4.8" height="50.5" fill="#54ffff"/>
<rect x="1300.8" y="674.7" width="4.8" height="34" fill="#ff3232"/>
<rect x="1308.5" y="676.1" width="4.8" height="32.6" fill="#54ffff"/>
<rect x="1317.1" y="652.2" width="4.8" height="56.5" fill="#54ffff"/>
<rect x="1324.8" y="665.6" width="4.8" height="43.1" fill="#ff3232"/>
<rect x="1332.5" y="676.1" width="4.8" height="32.6" fill="#54ffff"/>
<rect x="1341.2" y="677.7" width="4.8" height="31" fill="#ff3232"/>
<rect x="1348.9" y="670.2" width="4.8" height="38.5" fill="#54ffff"/>
<rect x="1356.5" y="673.3" width="4.8" height="35.4" fill="#54ffff"/>
<rect x="1365.2" y="661.2" width="4.8" height="47.5" fill="#ff3232"/>
<rect x="1372.9" y="638.9" width="4.8" height="69.8" fill="#ff3232"/>
<rect x="1380.6" y="655.2" width="4.8" height="53.5" fill="#54ffff"/>
<rect x="1389.2" y="652.2" width="4.8" height="56.5" fill="#ff3232"/>
<rect x="1396.9" y="661.2" width="4.8" height="47.5" fill="#ff3232"/>
<rect x="1404.6" y="664.2" width="4.8" height="44.5" fill="#54ffff"/>
<rect x="1413.2" y="662.6" width="4.8" height="46.1" fill="#54ffff"/>
<rect x="1420.9" y="661.2" width="4.8" height="47.5" fill="#ff3232"/>
<rect x="1428.6" y="656.6" width="4.8" height="52.1" fill="#ff3232"/>
<rect x="1437.3" y="652.2" width="4.8" height="56.5" fill="#54ffff"/>
<polyline points="5.7,593.3 14.3,598.7 22,600.7 29.7,600.7 38.4,600.7 46,602.3 53.7,600.7 62.4,604.3 70.1,606.3 77.7,609.2 86.4,613.8 94.1,615.9 101.8,619.1 110.4,626.8 118.1,634.8 125.8,640.5 134.4,649.5 142.1,651.9 149.8,651.8 158.5,650 166.2,651.5 173.8,652.5 182.5,653.3 190.2,654 197.9,655.1 206.5,656 214.2,656.5 221.9,657 230.5,660 238.2,660.6 245.9,660.5 254.6,656 262.2,656.3 269.9,656.5 278.6,656 286.3,653.6 293.9,653 302.6,651.8 310.3,651.6 318,652.5 326.6,653.1 334.3,656.6 342,657.2 350.6,659.1 358.3,660.9 366,661.9 374.7,662.5 382.4,662.9 390,663.2 398.7,663 406.4,663.2 414.1,663 422.7,665.1 430.4,665.4 438.1,664.5 446.7,665.8 454.4,666.1 462.1,667.6 470.8,667.8 478.4,667.3 486.1,668.1 494.8,671 502.4,671.1 511.1,670.7 518.8,671.4 526.5,672 535.1,673.2 542.8,673.2 550.5,672.8 559.1,674.1 566.8,673.4 574.5,673.4 583.2,673.8 590.8,675 598.5,674.4 607.2,674.2 614.9,672.9 622.6,672.9 631.2,673.6 638.9,673.6 646.6,674.1 655.2,673.5 662.9,672.6 670.6,672.4 679.2,673.5 686.9,674.1 694.6,675 703.3,674.2 711,669.3 718.6,669 727.3,668.5 735,669.1 742.7,669.6 751.3,668.9 759,668 766.7,667.5 775.3,667.4 783,667.5 790.7,671.5 799.4,672.1 807,672.1 814.7,671.5 823.4,671.4 831.1,671.7 838.8,672.4 847.4,671.8 855.1,672 862.8,672.7 871.4,674.5 879.1,674.8 886.8,675.6 895.5,674.1 903.1,671.8 910.8,668 919.5,667.3 927.2,667.6 934.9,667.7 943.5,667 951.2,666.5 958.9,665.2 967.5,664 974.6,665.8 983.2,667.7 990.9,670.5 998.6,670.6 1007.3,670.3 1014.9,670.2 1022.6,670.3 1031.3,670.8 1039,671.8 1046.7,672.3 1055.3,672.6 1063,673.2 1070.7,674.1 1079.3,675.4 1087,676.6 1094.7,676.6 1103.3,676 1111,675.4 1118.7,675.7 1127.4,676.8 1135.1,675.9 1142.7,676.3 1151.4,676.9 1159.1,676.3 1166.8,676 1175.4,676 1183.1,677.5 1190.8,678 1199.4,678.1 1207.1,677.5 1214.8,678.9 1223.5,679.6 1231.1,679.2 1238.8,677.8 1247.5,677.5 1255.2,674.4 1262.9,673.6 1271.5,671.4 1279.2,670.5 1286.9,669.5 1295.5,667.1 1303.2,665.9 1310.9,666.2 1319.5,665 1327.2,664.2 1334.9,667.2 1343.6,667.6 1351.3,668.8 1358.9,668.8 1367.6,668.5 1375.3,666.6 1383,664.6 1391.6,662.3 1399.3,663.2 1407,663 1415.6,661.7 1423.3,660 1431,658.7 1439.7,656.5" fill="none" stroke="#ffff00" stroke-width="1.2" stroke-linejoin="round"/>
<polyline points="5.7,608.7 14.3,618.4 22,618.4 29.7,604.3 38.4,593.7 46,593.7 53.7,582.3 62.4,589.5 70.1,604.5 77.7,624.6 86.4,634 94.1,649.5 101.8,648.6 110.4,649 118.1,645 125.8,647.1 134.4,649.5 142.1,655.2 149.8,654.6 158.5,654.9 166.2,655.8 173.8,655.5 182.5,651.4 190.2,653.5 197.9,655.3 206.5,656.2 214.2,657.4 221.9,662.7 230.5,666.6 238.2,666 245.9,664.8 254.6,654.7 262.2,649.9 269.9,646.4 278.6,646.1 286.3,642.4 293.9,651.3 302.6,653.7 310.3,656.9 318,659 326.6,663.8 334.3,661.8 342,660.7 350.6,661.3 358.3,662.8 366,659.9 374.7,663.1 382.4,665.1 390,665.1 398.7,663.3 406.4,666.6 414.1,662.9 422.7,665 430.4,665.7 438.1,665.7 446.7,665.1 454.4,669.3 462.1,670.2 470.8,669.9 478.4,669 486.1,671.1 494.8,672.6 502.4,672 511.1,671.4 518.8,673.8 526.5,673 535.1,673.8 542.8,674.4 550.5,674.1 559.1,674.4 566.8,673.7 574.5,672.9 583.2,673.2 590.8,675.9 598.5,674.4 607.2,674.7 614.9,672.9 622.6,672.5 631.2,671.4 638.9,672.9 646.6,673.5 655.2,674.1 662.9,672.6 670.6,673.5 679.2,674.1 686.9,674.7 694.6,675.9 703.3,675.9 711,665.1 718.6,663.9 727.3,662.4 735,662.4 742.7,663.3 751.3,672.6 759,672 766.7,672.6 775.3,672.3 783,671.7 790.7,670.4 799.4,672.3 807,671.6 814.7,670.8 823.4,671.1 831.1,672.9 838.8,672.6 847.4,672 855.1,673.2 862.8,674.4 871.4,676.2 879.1,677.1 886.8,679.2 895.5,675 903.1,669.2 910.8,659.9 919.5,657.5 927.2,656 934.9,660.5 943.5,664.7 951.2,673.2 958.9,672.9 967.5,672 974.6,671.1 983.2,670.8 990.9,667.7 998.6,668.3 1007.3,668.7 1014.9,669.3 1022.6,669.9 1031.3,673.8 1039,675.3 1046.7,675.9 1055.3,675.9 1063,676.5 1070.7,674.4 1079.3,675.6 1087,677.4 1094.7,677.4 1103.3,675.6 1111,676.4 1118.7,675.8 1127.4,676.2 1135.1,674.3 1142.7,677 1151.4,677.4 1159.1,676.8 1166.8,675.8 1175.4,677.7 1183.1,678 1190.8,678.6 1199.4,679.5 1207.1,679.2 1214.8,680.1 1223.5,681.3 1231.1,679.8 1238.8,676.2 1247.5,675.9 1255.2,668.7 1262.9,666 1271.5,663 1279.2,664.8 1286.9,663 1295.5,665.4 1303.2,665.7 1310.9,669.3 1319.5,665.1 1327.2,665.4 1334.9,668.9 1343.6,669.5 1351.3,668.4 1358.9,672.6 1367.6,671.7 1375.3,664.3 1383,659.8 1391.6,656.2 1399.3,653.7 1407,654.3 1415.6,659.1 1423.3,660.3 1431,661.2 1439.7,659.4" fill="none" stroke="#ffffff" stroke-width="1.2" stroke-linejoin="round"/>
<polyline points="5.7,815.5 14.3,808.6 22,798.6 29.7,806.7 38.4,823.6 46,835 53.7,838.4 62.4,841.5 70.1,840.5 77.7,837.7 86.4,832.1 94.1,824.7 101.8,817.9 110.4,809.9 118.1,808 125.8,808 134.4,819.8 142.1,830.2 149.8,829.6 158.5,833 166.2,830.6 173.8,824.6 182.5,810.3 190.2,810.7 197.9,816.2 206.5,810.7 214.2,816.3 221.9,812.4 230.5,806.3 238.2,808.1 245.9,820.5 254.6,829.1 262.2,837 269.9,841.8 278.6,849.2 286.3,844.5 293.9,843.7 302.6,844.3 310.3,846.4 318,841 326.6,833.8 334.3,809.3 342,796.8 350.6,796.9 358.3,807.5 366,826.1 374.7,838.4 382.4,842.4 390,838.9 398.7,843.7 406.4,843.6 414.1,829.9 422.7,823.1 430.4,824.9 438.1,827.9 446.7,829.3 454.4,827.7 462.1,831.2 470.8,826.2 478.4,807.1 486.1,795.9 494.8,787.7 502.4,781.8 511.1,776.9 518.8,773.6 526.5,782.2 535.1,792.2 542.8,790.8 550.5,788.7 559.1,795.1 566.8,817.5 574.5,834 583.2,841.6 590.8,843 598.5,844.6 607.2,851.9 614.9,845.7 622.6,841.3 631.2,824 638.9,803.7 646.6,795.8 655.2,790.2 662.9,799.9 670.6,805.2 679.2,801.6 686.9,806.5 694.6,810.4 703.3,814 711,824.7 718.6,832.3 727.3,840.3 735,842.1 742.7,849.7 751.3,850 759,853.6 766.7,857 775.3,851.2 783,854.2 790.7,851.9 799.4,851.7 807,851.1 814.7,843.8 823.4,825.6 831.1,805.2 838.8,801.7 847.4,791.6 855.1,784.3 862.8,787.7 871.4,793.4 879.1,800.3 886.8,815.5 895.5,802.9 903.1,791 910.8,784.1 919.5,779.1 927.2,782.2 934.9,786.7 943.5,786.3 951.2,784.5 958.9,792.1 967.5,808 974.6,827.4 983.2,838.7 990.9,831.5 998.6,832.3 1007.3,823.8 1014.9,814.7 1022.6,814.9 1031.3,810.7 1039,823 1046.7,829.3 1055.3,839.7 1063,839.7 1070.7,829.3 1079.3,823.8 1087,809.8 1094.7,799.4 1103.3,786.7 1111,781.8 1118.7,780.2 1127.4,783.7 1135.1,791.4 1142.7,805.7 1151.4,802.4 1159.1,819.8 1166.8,835 1175.4,836.9 1183.1,844.9 1190.8,850 1199.4,853.2 1207.1,848.6 1214.8,840.2 1223.5,840.2 1231.1,816.6 1238.8,801.6 1247.5,792.9 1255.2,781.9 1262.9,778.5 1271.5,776.4 1279.2,776.3 1286.9,772.9 1295.5,784.8 1303.2,802.5 1310.9,819.8 1319.5,832.3 1327.2,832.9 1334.9,837.7 1343.6,840.9 1351.3,841.2 1358.9,849.3 1367.6,836.7 1375.3,813.9 1383,812.7 1391.6,809.4 1399.3,805.7 1407,806.1 1415.6,817.9 1423.3,823.3 1431,820.8 1439.7,820.6" fill="none" stroke="#ffffff" stroke-width="1.1" stroke-linejoin="round"/>
<polyline points="5.7,805.9 14.3,806.8 22,804 29.7,804.9 38.4,811.1 46,819.1 53.7,825.5 62.4,830.9 70.1,834.1 77.7,835.3 86.4,834.2 94.1,831.1 101.8,826.7 110.4,821.1 118.1,816.7 125.8,813.8 134.4,815.8 142.1,820.6 149.8,823.6 158.5,826.7 166.2,828 173.8,826.9 182.5,821.4 190.2,817.8 197.9,817.3 206.5,815.1 214.2,815.5 221.9,814.4 230.5,811.7 238.2,810.5 245.9,813.8 254.6,818.9 262.2,825 269.9,830.6 278.6,836.8 286.3,839.3 293.9,840.8 302.6,842 310.3,843.4 318,842.6 326.6,839.7 334.3,829.6 342,818.7 350.6,811.4 358.3,810.1 366,815.5 374.7,823.1 382.4,829.5 390,832.7 398.7,836.3 406.4,838.8 414.1,835.8 422.7,831.6 430.4,829.4 438.1,828.9 446.7,829 454.4,828.6 462.1,829.4 470.8,828.4 478.4,821.3 486.1,812.8 494.8,804.5 502.4,796.9 511.1,790.3 518.8,784.7 526.5,783.9 535.1,786.6 542.8,788 550.5,788.3 559.1,790.5 566.8,799.5 574.5,811 583.2,821.2 590.8,828.5 598.5,833.8 607.2,839.9 614.9,841.8 622.6,841.6 631.2,835.7 638.9,825.1 646.6,815.3 655.2,807 662.9,804.6 670.6,804.8 679.2,803.7 686.9,804.7 694.6,806.6 703.3,809 711,814.3 718.6,820.3 727.3,826.9 735,832 742.7,837.9 751.3,841.9 759,845.8 766.7,849.6 775.3,850.1 783,851.5 790.7,851.6 799.4,851.6 807,851.5 814.7,848.9 823.4,841.1 831.1,829.2 838.8,820 847.4,810.5 855.1,801.8 862.8,797.1 871.4,795.9 879.1,797.3 886.8,803.4 895.5,803.2 903.1,799.2 910.8,794.1 919.5,789.1 927.2,786.8 934.9,786.8 943.5,786.6 951.2,785.9 958.9,788 967.5,794.7 974.6,805.6 983.2,816.6 990.9,821.6 998.6,825.1 1007.3,824.7 1014.9,821.3 1022.6,819.2 1031.3,816.4 1039,818.6 1046.7,822.1 1055.3,828 1063,831.9 1070.7,831 1079.3,828.6 1087,822.3 1094.7,814.7 1103.3,805.4 1111,797.5 1118.7,791.7 1127.4,789 1135.1,789.8 1142.7,795.1 1151.4,797.5 1159.1,805 1166.8,815 1175.4,822.3 1183.1,829.8 1190.8,836.5 1199.4,842.1 1207.1,844.3 1214.8,842.9 1223.5,842 1231.1,833.5 1238.8,822.9 1247.5,812.9 1255.2,802.5 1262.9,794.5 1271.5,788.5 1279.2,784.4 1286.9,780.6 1295.5,782 1303.2,788.8 1310.9,799.2 1319.5,810.2 1327.2,817.8 1334.9,824.4 1343.6,829.9 1351.3,833.7 1358.9,838.9 1367.6,838.1 1375.3,830.1 1383,824.3 1391.6,819.3 1399.3,814.8 1407,811.9 1415.6,813.9 1423.3,817 1431,818.3 1439.7,819.1" fill="none" stroke="#ffff00" stroke-width="1.1" stroke-linejoin="round"/>
<polyline points="5.7,834.7 14.3,812.1 22,787.6 29.7,810.2 38.4,848.5 46,866.7 53.7,864.2 62.4,862.8 70.1,853.4 77.7,842.6 86.4,827.8 94.1,812.1 101.8,800.4 110.4,787.6 118.1,790.5 125.8,796.4 134.4,827.8 142.1,849.4 149.8,841.6 158.5,845.5 166.2,835.7 173.8,820 182.5,788.2 190.2,796.4 197.9,814.1 206.5,801.9 214.2,818 221.9,808.2 230.5,795.4 238.2,803.3 245.9,833.7 254.6,849.4 262.2,861.2 269.9,864.2 278.6,874 286.3,854.8 293.9,849.4 302.6,849 310.3,852.4 318,837.7 326.6,822 334.3,768.9 342,753.2 350.6,768 358.3,802.3 366,847.5 374.7,869.1 382.4,868.1 390,851.4 398.7,858.3 406.4,853.4 414.1,818 422.7,806.2 430.4,816.1 438.1,825.9 446.7,829.8 454.4,825.9 462.1,834.7 470.8,822 478.4,778.8 486.1,762.1 494.8,754.2 502.4,751.7 511.1,750.3 518.8,751.3 526.5,778.8 535.1,803.3 542.8,796.4 550.5,789.6 559.1,804.3 566.8,853.4 574.5,879.9 583.2,882.4 590.8,872 598.5,866.1 607.2,876 614.9,853.4 622.6,840.6 631.2,800.4 638.9,761.1 646.6,756.8 655.2,756.8 662.9,790.5 670.6,805.9 679.2,797.4 686.9,810.2 694.6,818 703.3,823.9 711,845.5 718.6,856.3 727.3,867.1 735,862.2 742.7,873.4 751.3,866.1 759,869.1 766.7,872 775.3,853.4 783,859.7 790.7,852.4 799.4,851.8 807,850.4 814.7,833.7 823.4,794.5 831.1,757.2 838.8,765 847.4,753.7 855.1,749.3 862.8,768.9 871.4,788.6 879.1,806.2 886.8,839.6 895.5,802.3 903.1,774.8 910.8,764 919.5,759.1 927.2,772.9 934.9,786.6 943.5,785.6 951.2,781.7 958.9,800.4 967.5,834.7 974.6,871 983.2,882.8 990.9,851.4 998.6,846.5 1007.3,822 1014.9,801.3 1022.6,806.2 1031.3,799.4 1039,831.8 1046.7,843.6 1055.3,863.2 1063,855.3 1070.7,825.9 1079.3,814.1 1087,784.6 1094.7,768.9 1103.3,749.3 1111,750.3 1118.7,757.2 1127.4,772.9 1135.1,794.5 1142.7,826.9 1151.4,812.1 1159.1,849.4 1166.8,875 1175.4,866.1 1183.1,875 1190.8,876.9 1199.4,875.4 1207.1,857.3 1214.8,834.7 1223.5,836.7 1231.1,782.7 1238.8,759.1 1247.5,752.8 1255.2,740.5 1262.9,746.4 1271.5,752.2 1279.2,760.1 1286.9,757.6 1295.5,790.5 1303.2,829.8 1310.9,861.2 1319.5,876.5 1327.2,863.2 1334.9,864.2 1343.6,862.8 1351.3,856.3 1358.9,870.1 1367.6,833.7 1375.3,781.7 1383,789.6 1391.6,789.6 1399.3,787.6 1407,794.5 1415.6,825.9 1423.3,835.8 1431,825.9 1439.7,823.6" fill="none" stroke="#ff00ff" stroke-width="1.1" stroke-linejoin="round"/>
<path d="M1469.9,711 V884.8 H1490" fill="none" stroke="#b00000" stroke-width="3.2"/>
<line x1="1485" y1="757" x2="1488" y2="754" stroke="#d03030" stroke-width="1.3"/>
<rect x="1467.4" y="687.5" width="21" height="1.6" fill="#b00000"/>
<path d="M1435.4,13.3 l8,8 l-8,8 l-8,-8 z" fill="none" stroke="#b00000" stroke-width="1.5"/>
<rect x="1450" y="13.5" width="14.5" height="15.5" fill="none" stroke="#b00000" stroke-width="1.6"/>
<line x1="1458.8" y1="13.5" x2="1458.8" y2="29" stroke="#b00000" stroke-width="1.6"/>
<path d="M183.4,11.2 l7.7,8.7 h-4.2 v7.8 h-7 v-7.8 h-4.2 z" fill="#ff0000"/>
<polyline points="38.6,44.2 34,42 29,40.6 24.5,40" fill="none" stroke="#c0c0c0" stroke-width="1.1"/>
<polyline points="27.3,36.2 23.2,36.2 23.2,42.6" fill="none" stroke="#c0c0c0" stroke-width="1.1"/>
<polyline points="809,508.3 793,508.3" fill="none" stroke="#c0c0c0" stroke-width="1.1"/>
<polyline points="794.5,504.3 791.3,504.3 791.3,512" fill="none" stroke="#c0c0c0" stroke-width="1.1"/>
</svg>
<svg width="1488" height="886" viewBox="0 0 1488 886" style="position:absolute;left:0;top:0;will-change:transform" font-family="'Liberation Sans','Noto Sans CJK SC',sans-serif"><text x="2.2" y="27.8" fill="#c0c0c0" font-size="19" stroke="#000" stroke-width="0.3" textLength="164.5" lengthAdjust="spacingAndGlyphs">上证50(日线.前复权)</text>
<text x="196.3" y="26.6" fill="#fff" font-size="19.8" stroke="#000" stroke-width="0.3" textLength="37" lengthAdjust="spacingAndGlyphs">MA5:</text>
<text x="239.3" y="26.6" fill="#fff" font-size="19.8" stroke="#000" stroke-width="0.3" textLength="67" lengthAdjust="spacingAndGlyphs">2437.08</text>
<text x="314.7" y="26.6" fill="#ffff00" font-size="19.8" stroke="#000" stroke-width="0.3" textLength="48.5" lengthAdjust="spacingAndGlyphs">MA10:</text>
<text x="369.3" y="26.6" fill="#ffff00" font-size="19.8" stroke="#000" stroke-width="0.3" textLength="65.5" lengthAdjust="spacingAndGlyphs">2459.93</text>
<text x="443.6" y="26.6" fill="#ff00ff" font-size="19.8" stroke="#000" stroke-width="0.3" textLength="48.5" lengthAdjust="spacingAndGlyphs">MA20:</text>
<text x="497.6" y="26.6" fill="#ff00ff" font-size="19.8" stroke="#000" stroke-width="0.3" textLength="65.5" lengthAdjust="spacingAndGlyphs">2456.97</text>
<text x="572.7" y="26.6" fill="#00f000" font-size="19.8" stroke="#000" stroke-width="0.3" textLength="59" lengthAdjust="spacingAndGlyphs">MA250:</text>
<text x="637.6" y="26.6" fill="#00f000" font-size="19.8" stroke="#000" stroke-width="0.3" textLength="65.5" lengthAdjust="spacingAndGlyphs">2704.84</text>
<text x="2.6" y="553.6" fill="#fff" font-size="19.8" stroke="#000" stroke-width="0.3" textLength="77" lengthAdjust="spacingAndGlyphs">VOLUME:</text>
<text x="85" y="553.6" fill="#fff" font-size="19.8" stroke="#000" stroke-width="0.3" textLength="108.5" lengthAdjust="spacingAndGlyphs">37694392.00</text>
<text x="201.7" y="553.6" fill="#fff" font-size="19.8" stroke="#000" stroke-width="0.3" textLength="38.5" lengthAdjust="spacingAndGlyphs">MA5:</text>
<text x="245.6" y="553.6" fill="#fff" font-size="19.8" stroke="#000" stroke-width="0.3" textLength="108" lengthAdjust="spacingAndGlyphs">32436310.00</text>
<text x="362.8" y="553.6" fill="#ffff00" font-size="19.8" stroke="#000" stroke-width="0.3" textLength="48" lengthAdjust="spacingAndGlyphs">MA10:</text>
<text x="417.8" y="553.6" fill="#ffff00" font-size="19.8" stroke="#000" stroke-width="0.3" textLength="107" lengthAdjust="spacingAndGlyphs">34346840.00</text>
<text x="2.8" y="729.2" fill="#c0c0c0" font-size="19.8" stroke="#000" stroke-width="0.3" textLength="86" lengthAdjust="spacingAndGlyphs">KDJ(9,3,3)</text>
<text x="97.4" y="729.2" fill="#fff" font-size="19.8" stroke="#000" stroke-width="0.3" textLength="15" lengthAdjust="spacingAndGlyphs">K:</text>
<text x="117.6" y="729.2" fill="#fff" font-size="19.8" stroke="#000" stroke-width="0.3" textLength="45.5" lengthAdjust="spacingAndGlyphs">43.06</text>
<text x="172.6" y="729.2" fill="#ffff00" font-size="19.8" stroke="#000" stroke-width="0.3" textLength="17" lengthAdjust="spacingAndGlyphs">D:</text>
<text x="194" y="729.2" fill="#ffff00" font-size="19.8" stroke="#000" stroke-width="0.3" textLength="45.5" lengthAdjust="spacingAndGlyphs">44.39</text>
<text x="246.8" y="729.2" fill="#ff00ff" font-size="19.8" stroke="#000" stroke-width="0.3" textLength="14" lengthAdjust="spacingAndGlyphs">J:</text>
<text x="266" y="729.2" fill="#ff00ff" font-size="19.8" stroke="#000" stroke-width="0.3" textLength="45.5" lengthAdjust="spacingAndGlyphs">40.42</text>
<text x="42.6" y="51.8" fill="#c0c0c0" font-size="19.8" stroke="#000" stroke-width="0.3" textLength="67" lengthAdjust="spacingAndGlyphs">3181.59</text>
<text x="810.3" y="515.4" fill="#c0c0c0" font-size="19.8" stroke="#000" stroke-width="0.3" textLength="65" lengthAdjust="spacingAndGlyphs">2331.84</text>
<text x="1291.6" y="366" fill="#c0c0c0" font-size="19.8" stroke="#000" stroke-width="0.3" textLength="147.5" lengthAdjust="spacingAndGlyphs">2577.98 - 2566.63</text>
<text x="1478.5" y="569.6" fill="#e03030" font-size="19.5" stroke="#000" stroke-width="0.3">1</text>
<text x="1470.5" y="704.6" fill="#d03030" font-size="19.5" stroke="#000" stroke-width="0.3">X1</text></svg>
</body></html>
